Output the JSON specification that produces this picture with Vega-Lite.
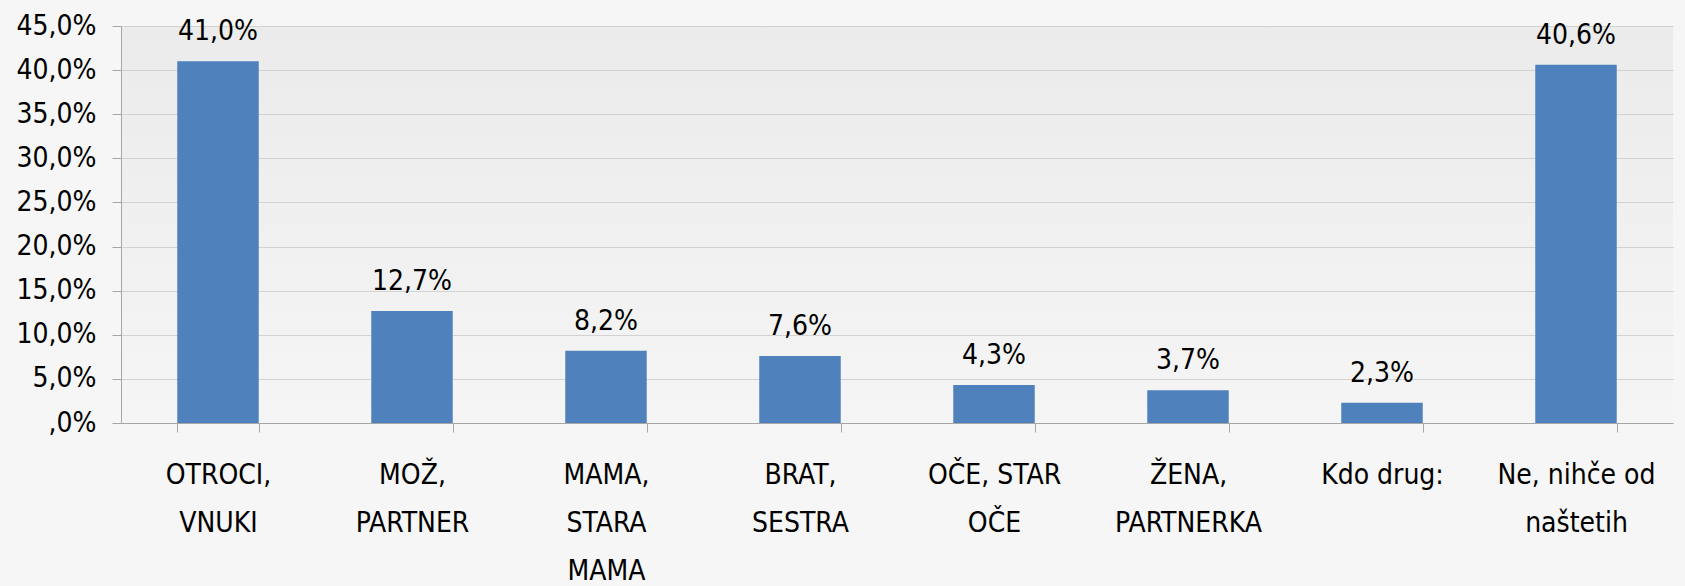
{
  "$schema": "https://vega.github.io/schema/vega-lite/v6.json",
  "width": 1552,
  "height": 397,
  "autosize": {"type": "none"},
  "padding": {"left": 121, "top": 26, "right": 12, "bottom": 163},
  "background": "#f6f6f6",
  "config": {
    "font": "DejaVu Sans Condensed, Liberation Sans, sans-serif",
    "locale": {"number": {"decimal": ",", "thousands": ".", "grouping": [3], "currency": ["", " €"]}},
    "view": {
      "stroke": null,
      "fill": {"gradient": "linear", "x1": 0, "y1": 0, "x2": 0, "y2": 1, "stops": [{"offset": 0, "color": "#ebebeb"}, {"offset": 1, "color": "#f5f5f5"}]}
    }
  },
  "data": {
    "values": [
      {"kategorija": "OTROCI, VNUKI", "delez": 0.41},
      {"kategorija": "MOŽ, PARTNER", "delez": 0.127},
      {"kategorija": "MAMA, STARA MAMA", "delez": 0.082},
      {"kategorija": "BRAT, SESTRA", "delez": 0.076},
      {"kategorija": "OČE, STAR OČE", "delez": 0.043},
      {"kategorija": "ŽENA, PARTNERKA", "delez": 0.037},
      {"kategorija": "Kdo drug:", "delez": 0.023},
      {"kategorija": "Ne, nihče od naštetih", "delez": 0.406}
    ]
  },
  "encoding": {
    "x": {
      "field": "kategorija",
      "type": "nominal",
      "sort": null,
      "scale": {"paddingInner": 0.58, "paddingOuter": 0.29},
      "axis": {
        "title": null,
        "labelAngle": 0,
        "tickBand": "extent",
        "domainColor": "#a6a6a6",
        "tickColor": "#a6a6a6",
        "tickSize": 9,
        "labelPadding": 29,
        "labelFontSize": 28,
        "labelLineHeight": 48,
        "labelColor": "#000000",
        "labelBaseline": "top",
        "labelLimit": 0,
        "labelExpr": "!isString(datum.value) ? '' : datum.value == 'MAMA, STARA MAMA' ? ['MAMA,', 'STARA', 'MAMA'] : datum.value == 'OČE, STAR OČE' ? ['OČE, STAR', 'OČE'] : datum.value == 'Kdo drug:' ? 'Kdo drug:' : datum.value == 'Ne, nihče od naštetih' ? ['Ne, nihče od', 'naštetih'] : split(datum.value, ' ')"
      }
    },
    "y": {
      "field": "delez",
      "type": "quantitative",
      "scale": {"domain": [0, 0.45], "nice": false},
      "axis": {
        "title": null,
        "values": [0, 0.05, 0.1, 0.15, 0.2, 0.25, 0.3, 0.35, 0.4, 0.45],
        "format": ".1%",
        "labelExpr": "datum.value == 0 ? ',0%' : datum.label",
        "tickSize": 9,
        "labelPadding": 16,
        "labelFontSize": 28,
        "labelColor": "#000000",
        "gridColor": "#d2d2d2",
        "domainColor": "#a6a6a6",
        "tickColor": "#a6a6a6"
      }
    }
  },
  "layer": [
    {"mark": {"type": "bar", "color": "#4f81bd"}},
    {
      "mark": {"type": "text", "baseline": "alphabetic", "dy": -21, "fontSize": 28, "color": "#000000"},
      "encoding": {"text": {"field": "delez", "type": "quantitative", "format": ".1%"}}
    }
  ]
}
